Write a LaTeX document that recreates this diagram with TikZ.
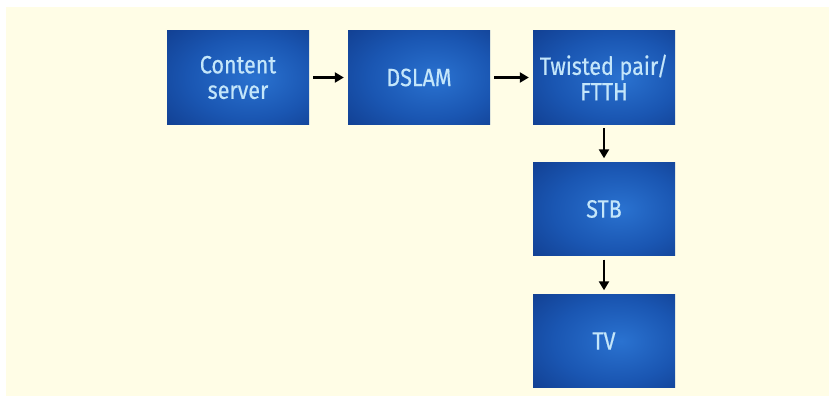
\documentclass[tikz,border=0pt]{standalone}
\usepackage{fontspec}
\setmainfont{Fira Sans}[FakeStretch=0.86,FakeBold=0.5]
\usetikzlibrary{arrows.meta}
\definecolor{cream}{HTML}{FFFDE6}
\definecolor{boxin}{HTML}{2A72D0}
\definecolor{boxmid}{HTML}{1A56B2}
\definecolor{boxout}{HTML}{0C307C}
\definecolor{boxcorner}{HTML}{092666}
\definecolor{boxtext}{HTML}{C4E6FA}
\pgfdeclareradialshading{boxshade}{\pgfpoint{6bp}{0bp}}{color(0bp)=(boxin); color(22bp)=(boxmid); color(50bp)=(boxout); color(75bp)=(boxcorner)}
\tikzset{
  blockbox/.style={shading=boxshade, minimum width=142pt, minimum height=93pt,
    inner sep=0pt, align=center, text=boxtext, font=\fontsize{25}{25.5}\selectfont},
  flowarrow/.style={line width=2.3pt, -{Triangle[length=9pt,width=10pt]}, shorten <=4pt, shorten >=4pt}
}
\begin{document}
\begin{tikzpicture}[x=1pt,y=-1pt]
\useasboundingbox (0,0) rectangle (833,404);
\fill[cream] (6,7) rectangle (829,396);
\node[blockbox] (cs) at (238,77.5) {Content\\server};
\node[blockbox] (dslam) at (419,77.5) {DSLAM};
\node[blockbox] (tp) at (604,77.5) {Twisted pair/\\FTTH};
\node[blockbox] (stb) at (604,209) {STB};
\node[blockbox] (tv) at (604,341) {TV};
\draw[flowarrow] (cs) -- (dslam);
\draw[flowarrow] (dslam) -- (tp);
\draw[flowarrow] (tp) -- (stb);
\draw[flowarrow] (stb) -- (tv);
\end{tikzpicture}
\end{document}
